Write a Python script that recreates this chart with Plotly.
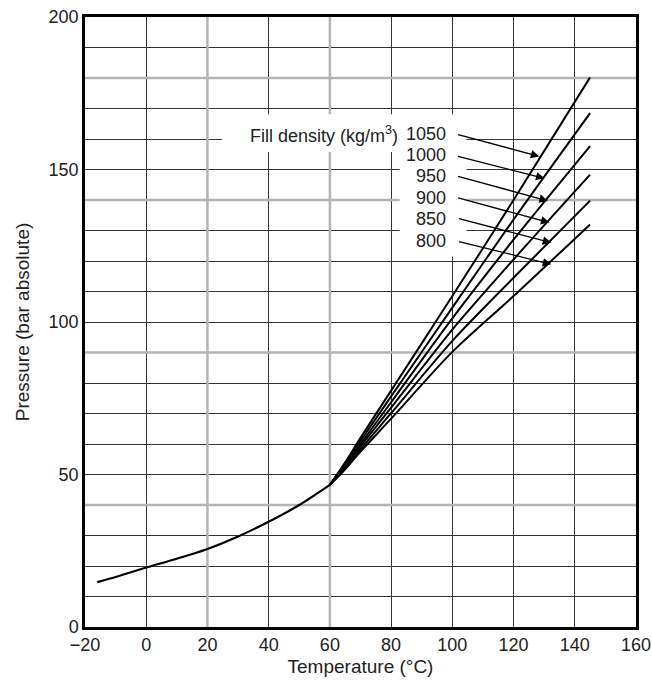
import plotly.graph_objects as go

# ---- data ----
base_T = [-16, -10, 0, 10, 20, 30, 40, 50, 60]
base_P = [14.7, 16.4, 19.5, 22.4, 25.6, 29.7, 34.5, 40.0, 46.6]

fan_T = [60, 65, 70, 80, 100, 120, 145]
densities = ["1050", "1000", "950", "900", "850", "800"]
P_1050 = [46.6, 54.0, 62.0, 77.5, 108.5, 140.0, 180.2]
P_1000 = [46.6, 53.5, 61.0, 75.6, 104.7, 133.6, 168.5]
P_950 = [46.6, 53.0, 60.0, 73.7, 101.2, 127.0, 157.7]
P_900 = [46.6, 52.6, 59.2, 71.9, 97.5, 120.5, 148.3]
P_850 = [46.6, 52.1, 58.3, 70.1, 93.8, 114.5, 139.8]
P_800 = [46.6, 51.7, 57.5, 68.3, 90.2, 108.5, 132.0]
fan_P = [P_1050, P_1000, P_950, P_900, P_850, P_800]

# arrow heads (on curves) and tails (next to labels)
arrow_head_T = [128.4, 130.1, 131.2, 131.7, 132.3, 132.3]
arrow_head_P = [154.3, 147.1, 139.7, 132.6, 126.0, 118.9]
arrow_tail_T = [101.4, 101.4, 101.4, 101.4, 101.7, 101.7]
arrow_tail_P = [161.6, 154.4, 147.9, 140.8, 134.0, 126.5]
label_P = [161.6, 154.7, 147.8, 140.6, 133.7, 126.5]
label_T = 98.6

x_ticks = [-20, 0, 20, 40, 60, 80, 100, 120, 140, 160]
y_ticks = [0, 50, 100, 150, 200]

FONT = "Arial, Liberation Sans, sans-serif"
TXT = "#222222"

fig = go.Figure()
fig.add_trace(go.Scatter(x=base_T, y=base_P, mode="lines",
                         line=dict(color="black", width=2.2, shape="spline", smoothing=0.8),
                         showlegend=False, hoverinfo="skip"))
for name, P in zip(densities, fan_P):
    fig.add_trace(go.Scatter(x=fan_T, y=P, mode="lines", name=name,
                             line=dict(color="black", width=2.0, shape="spline", smoothing=0.8),
                             showlegend=False, hoverinfo="skip"))

shapes = []
# scan-like grey grid lines
for xv in [20, 60]:
    shapes.append(dict(type="line", xref="x", yref="y", x0=xv, x1=xv, y0=0, y1=200,
                       line=dict(color="#b4b4b4", width=2.5), layer="between"))
for yv in [180, 140, 90, 40]:
    shapes.append(dict(type="line", xref="x", yref="y", x0=-20, x1=160, y0=yv, y1=yv,
                       line=dict(color="#b4b4b4", width=2.5), layer="between"))
# white label backgrounds
shapes.append(dict(type="rect", xref="x", yref="y", x0=24.7, x1=82.8, y0=155.7, y1=168.1,
                   fillcolor="white", line=dict(width=0), layer="between"))
shapes.append(dict(type="rect", xref="x", yref="y", x0=82.8, x1=104.6, y0=121.5, y1=168.1,
                   fillcolor="white", line=dict(width=0), layer="between"))

annotations = []
annotations.append(dict(x=82.8, y=label_P[0], xref="x", yref="y", xanchor="right", yanchor="middle",
                        text="Fill density (kg/m<sup>3</sup>)", showarrow=False,
                        font=dict(family=FONT, size=18, color=TXT)))
for name, lp in zip(densities, label_P):
    annotations.append(dict(x=label_T, y=lp, xref="x", yref="y", xanchor="right", yanchor="middle",
                            text=name, showarrow=False, font=dict(family=FONT, size=18, color=TXT)))
for hx, hy, tx, ty in zip(arrow_head_T, arrow_head_P, arrow_tail_T, arrow_tail_P):
    annotations.append(dict(x=hx, y=hy, ax=tx, ay=ty, xref="x", yref="y", axref="x", ayref="y",
                            text="", showarrow=True, arrowhead=2, arrowsize=1.3, arrowwidth=1.3,
                            arrowcolor="black", standoff=0, startstandoff=0))

fig.update_layout(
    width=652, height=689,
    margin=dict(l=85, r=16, t=17, b=62, autoexpand=False),
    paper_bgcolor="white", plot_bgcolor="white",
    font=dict(family=FONT, size=18, color=TXT),
    shapes=shapes, annotations=annotations,
    showlegend=False,
)
fig.update_xaxes(range=[-20, 160], tickvals=x_ticks, ticktext=[str(v).replace("-", "\u2212") for v in x_ticks],
                 showgrid=True, gridcolor="#333333", gridwidth=1.2, zeroline=False, automargin=False,
                 showline=True, linecolor="black", linewidth=2.5, mirror=True,
                 ticks="", tickfont=dict(size=18, color=TXT),
                 title=dict(text="Temperature (\u00b0C)", font=dict(size=19, color=TXT), standoff=6))
fig.update_yaxes(range=[0, 200], tickvals=y_ticks, automargin=False,
                 showgrid=True, gridcolor="#333333", gridwidth=1.2, zeroline=False,
                 minor=dict(dtick=10, tick0=0, showgrid=True, gridcolor="#333333", gridwidth=1.2),
                 showline=True, linecolor="black", linewidth=2.5, mirror=True,
                 ticks="", tickfont=dict(size=18, color=TXT),
                 title=dict(text="Pressure (bar absolute)", font=dict(size=19, color=TXT), standoff=14))

fig.write_html("out.html")
